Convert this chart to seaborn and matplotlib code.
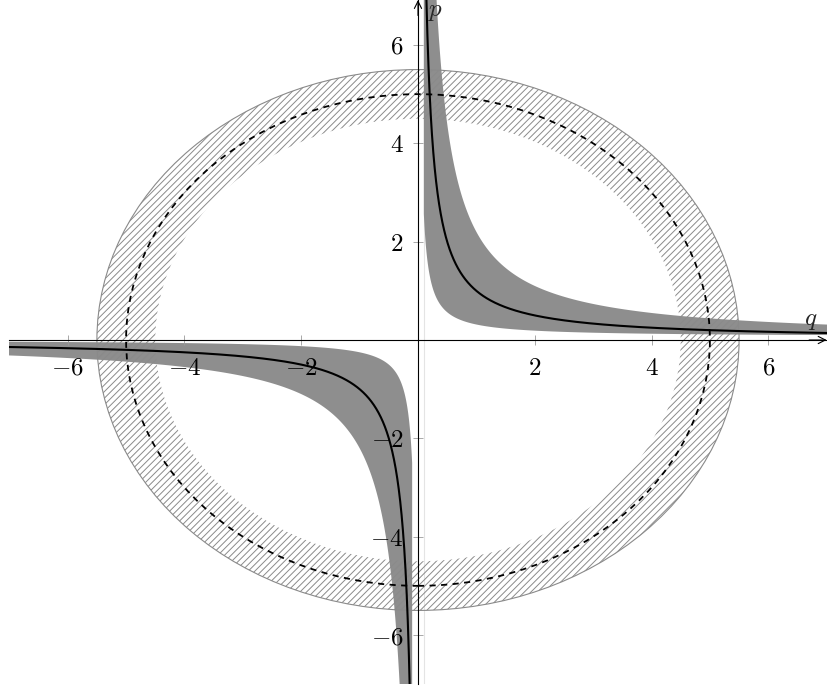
import numpy as np
import pandas as pd
import matplotlib
matplotlib.use("Agg")
import matplotlib.pyplot as plt
import seaborn as sns
from matplotlib.patches import Wedge, Circle, Rectangle
from matplotlib.collections import LineCollection

# ---------------- data ----------------
x_ticks = [-6, -4, -2, 2, 4, 6]
x_tick_labels = [r"$-6$", r"$-4$", r"$-2$", r"$2$", r"$4$", r"$6$"]
y_ticks = [-6, -4, -2, 2, 4, 6]
y_tick_labels = [r"$-6$", r"$-4$", r"$-2$", r"$2$", r"$4$", r"$6$"]

hyperbola_k = 1.0            # p = k / q
q_abs_range = [0.1, 7.2]     # |q| domain of the curves
band_near_k = [0.25, 0.25]   # near edge (pos, neg branch): p = k/|q| + off
band_near_off = [0.065, 0.0]
band_far_k = [2.2, 2.2]      # far edge: p = k/|q|
circle_r = 5.0
annulus_r = [4.5, 5.5]
plot_box = [-7.0, 7.0, -7.0, 7.0]

# ---------------- style ----------------
sns.set_theme(style="white")
plt.rcParams["font.family"] = ["DejaVu Serif"]
plt.rcParams["mathtext.fontset"] = "cm"

W, H = 827, 692
fig = plt.figure(figsize=(W / 100, H / 100), dpi=100)
ax = fig.add_axes([0, 0, 1, 1])
xlim = (-7.16, 7.006)
ylim = (-7.159, 6.915)
ax.set_xlim(*xlim)
ax.set_ylim(*ylim)
ax.set_facecolor("white")
ax.set_axisbelow(False)

clip = Rectangle((plot_box[0], plot_box[2]), plot_box[1] - plot_box[0],
                 plot_box[3] - plot_box[2], transform=ax.transData)

band_col = "#8e8e8e"
qa = np.geomspace(q_abs_range[0], q_abs_range[1], 800)
rows = []
for i, sgn in enumerate([1, -1]):
    q = sgn * qa
    near = sgn * (band_near_k[i] / qa + band_near_off[i])
    far = sgn * (band_far_k[i] / qa)
    f = ax.fill_between(q, near, far, color=band_col, lw=0, zorder=1)
    f.set_clip_path(clip)
    rows.append(pd.DataFrame({"q": q, "p": hyperbola_k / q,
                              "branch": "pos" if sgn > 0 else "neg"}))
df = pd.concat(rows, ignore_index=True)

# faint edge line at q = 0.1
ax.axvline(q_abs_range[0], color="#e4e4e4", lw=0.8, zorder=0.5)

# hatched annulus (hatch drawn as 45-degree lines clipped to the ring)
ring = Wedge((0, 0), annulus_r[1], 0, 360, width=annulus_r[1] - annulus_r[0],
             facecolor="none", edgecolor="none", lw=0, zorder=1.5)
ax.add_patch(ring)
px_x = W / (xlim[1] - xlim[0])
px_y = H / (ylim[1] - ylim[0])
slope = px_x / px_y
step = 6.6 / px_y
cs = np.arange(-14, 14, step)
segs = [[(-7, slope * -7 + c), (7, slope * 7 + c)] for c in cs]
hatch = LineCollection(segs, colors="#8a8a8a", linewidths=0.7, zorder=1.5)
ax.add_collection(hatch)
hatch.set_clip_path(ring)

ax.add_patch(Circle((0, 0), annulus_r[1], fill=False, edgecolor="#8a8a8a",
                    lw=0.8, zorder=1.6))
ax.add_patch(Circle((0, 0), circle_r, fill=False, edgecolor="black",
                    lw=1.3, ls=(0, (3.4, 3.0)), zorder=3))

# hyperbola
sns.lineplot(data=df, x="q", y="p", units="branch", estimator=None,
             sort=False, color="black", lw=1.5, ax=ax, zorder=4, legend=False)
for ln in ax.lines:
    ln.set_clip_path(clip)

# axes through origin
for s in ["top", "right"]:
    ax.spines[s].set_visible(False)
ax.spines["bottom"].set_position(("data", 0))
ax.spines["left"].set_position(("data", 0))
ax.spines["bottom"].set_bounds(-7, 7)
ax.spines["left"].set_bounds(-7, 6.915)
for s in ["bottom", "left"]:
    ax.spines[s].set_color("black")
    ax.spines[s].set_linewidth(0.8)
    ax.spines[s].set_zorder(2.6)

ax.annotate("", xy=(7.0, 0), xytext=(6.7, 0),
            arrowprops=dict(arrowstyle="->", color="black", lw=0.8,
                            mutation_scale=13, shrinkA=0, shrinkB=0), zorder=5)
ax.annotate("", xy=(0, 6.915), xytext=(0, 6.6),
            arrowprops=dict(arrowstyle="->", color="black", lw=0.8,
                            mutation_scale=13, shrinkA=0, shrinkB=0), zorder=5)

ax.set_xticks(x_ticks, x_tick_labels)
ax.set_yticks(y_ticks, y_tick_labels)
ax.tick_params(axis="both", bottom=True, left=True, direction="inout",
               length=7, width=0.6, color="#9a9a9a", labelsize=18,
               labelcolor="black")
ax.tick_params(axis="x", pad=8.5)
ax.tick_params(axis="y", pad=7)
ax.xaxis.set_zorder(2.5)
ax.yaxis.set_zorder(2.5)
ax.set_xlabel("")
ax.set_ylabel("")

ax.text(6.85, 0.3, r"$q$", fontsize=18, ha="right", va="baseline", zorder=6)
ax.text(0.17, 6.59, r"$p$", fontsize=18, ha="left", va="baseline", zorder=6)

fig.savefig("out.png", dpi=100)
